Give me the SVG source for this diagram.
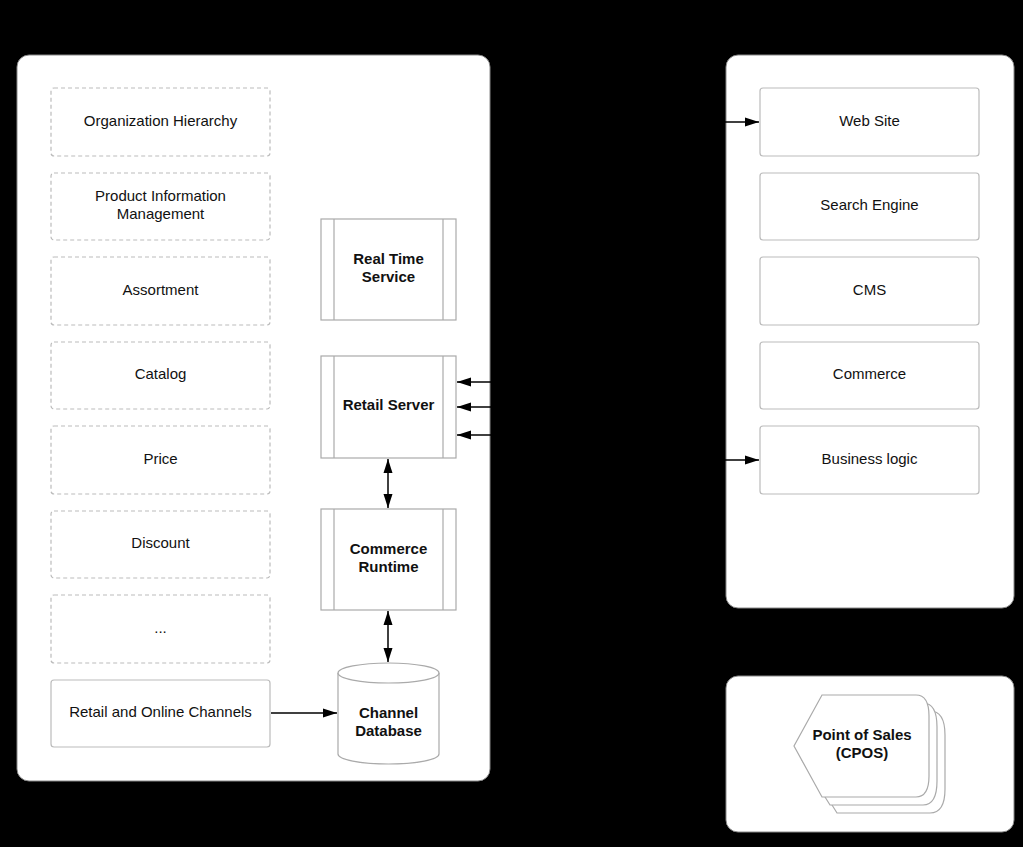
<svg xmlns="http://www.w3.org/2000/svg" width="1023" height="847" viewBox="0 0 1023 847">
<style>
.cont{fill:#fff;stroke:#888;stroke-width:1}
.dash{fill:#fff;stroke:#bbb;stroke-width:1.2;stroke-dasharray:4 3}
.box{fill:#fff;stroke:#bbb;stroke-width:1.2}
.proc{fill:#fff;stroke:#aaa;stroke-width:1.2}
text{font-family:"Liberation Sans",Arial,sans-serif;font-size:15px;fill:#111;text-anchor:middle}
.b{font-weight:bold}
.conn{stroke:#000;stroke-width:1.5;fill:none}
</style>
<defs>
<marker id="ah" viewBox="0 0 14 10" refX="14" refY="5" markerWidth="14" markerHeight="10" markerUnits="userSpaceOnUse" orient="auto-start-reverse">
<path d="M0,0.5 L14,5 L0,9.5 Z" fill="#000"/>
</marker>
</defs>
<rect width="1023" height="847" fill="#000"/>
<g id="containers">
<rect class="cont" x="17" y="55" width="473" height="726" rx="12"/>
<rect class="cont" x="726" y="55" width="288" height="553" rx="12"/>
<rect class="cont" x="726" y="676" width="288" height="156" rx="12"/>
</g>
<g id="n-org"><rect class="dash" x="51" y="88" width="219" height="68" rx="3"/><text x="160.5" y="126">Organization Hierarchy</text></g>
<g id="n-pim"><rect class="dash" x="51" y="173" width="219" height="67" rx="3"/><text x="160.5" y="201">Product Information</text><text x="160.5" y="219">Management</text></g>
<g id="n-assort"><rect class="dash" x="51" y="257" width="219" height="68" rx="3"/><text x="160.5" y="295">Assortment</text></g>
<g id="n-catalog"><rect class="dash" x="51" y="342" width="219" height="67" rx="3"/><text x="160.5" y="379">Catalog</text></g>
<g id="n-price"><rect class="dash" x="51" y="426" width="219" height="68" rx="3"/><text x="160.5" y="464">Price</text></g>
<g id="n-discount"><rect class="dash" x="51" y="511" width="219" height="67" rx="3"/><text x="160.5" y="548">Discount</text></g>
<g id="n-more"><rect class="dash" x="51" y="595" width="219" height="68" rx="3"/><text x="160.5" y="633">...</text></g>
<g id="n-channels"><rect class="box" x="51" y="680" width="219" height="67" rx="3"/><text x="160.5" y="717">Retail and Online Channels</text></g>
<g id="n-rts"><rect class="proc" x="321" y="219" width="135" height="101"/><line class="proc" x1="334" y1="219" x2="334" y2="320"/><line class="proc" x1="443" y1="219" x2="443" y2="320"/><text class="b" x="388.5" y="264">Real Time</text><text class="b" x="388.5" y="282">Service</text></g>
<g id="n-rs"><rect class="proc" x="321" y="356" width="135" height="102"/><line class="proc" x1="334" y1="356" x2="334" y2="458"/><line class="proc" x1="443" y1="356" x2="443" y2="458"/><text class="b" x="388.5" y="410">Retail Server</text></g>
<g id="n-crt"><rect class="proc" x="321" y="509" width="135" height="101"/><line class="proc" x1="334" y1="509" x2="334" y2="610"/><line class="proc" x1="443" y1="509" x2="443" y2="610"/><text class="b" x="388.5" y="554">Commerce</text><text class="b" x="388.5" y="572">Runtime</text></g>
<g id="n-db"><path class="proc" d="M338,673 L338,754 A50.5,10 0 0 0 439,754 L439,673"/><ellipse class="proc" cx="388.5" cy="673" rx="50.5" ry="10"/><text class="b" x="388.5" y="718">Channel</text><text class="b" x="388.5" y="736">Database</text></g>
<g id="n-web"><rect class="box" x="760" y="88" width="219" height="68" rx="3"/><text x="869.5" y="126">Web Site</text></g>
<g id="n-search"><rect class="box" x="760" y="173" width="219" height="67" rx="3"/><text x="869.5" y="210">Search Engine</text></g>
<g id="n-cms"><rect class="box" x="760" y="257" width="219" height="68" rx="3"/><text x="869.5" y="295">CMS</text></g>
<g id="n-commerce"><rect class="box" x="760" y="342" width="219" height="67" rx="3"/><text x="869.5" y="379">Commerce</text></g>
<g id="n-bl"><rect class="box" x="760" y="426" width="219" height="68" rx="3"/><text x="869.5" y="464">Business logic</text></g>
<g id="n-pos">
<path class="proc" d="M837,711 L930,711 Q945,711 945,735 L945,789 Q945,813 930,813 L837,813 L809,768 Z"/>
<path class="proc" d="M830,703 L923,703 Q937,703 937,727 L937,781 Q937,805 923,805 L830,805 L802,760 Z"/>
<path class="proc" d="M822,695 L916,695 Q929,695 929,716 L929,776 Q929,797 916,797 L822,797 L794,746 Z"/>
<text class="b" x="862" y="740">Point of Sales</text><text class="b" x="862" y="758">(CPOS)</text>
</g>
<g id="connectors">
<line class="conn" x1="388" y1="459" x2="388" y2="508" marker-start="url(#ah)" marker-end="url(#ah)"/>
<line class="conn" x1="388" y1="611" x2="388" y2="662" marker-start="url(#ah)" marker-end="url(#ah)"/>
<line class="conn" x1="271" y1="713" x2="337" y2="713" marker-end="url(#ah)"/>
<line class="conn" x1="600" y1="382" x2="457" y2="382" marker-end="url(#ah)"/>
<line class="conn" x1="600" y1="407" x2="457" y2="407" marker-end="url(#ah)"/>
<line class="conn" x1="600" y1="435" x2="457" y2="435" marker-end="url(#ah)"/>
<line class="conn" x1="600" y1="122" x2="759" y2="122" marker-end="url(#ah)"/>
<line class="conn" x1="600" y1="460" x2="759" y2="460" marker-end="url(#ah)"/>
</g>
</svg>
